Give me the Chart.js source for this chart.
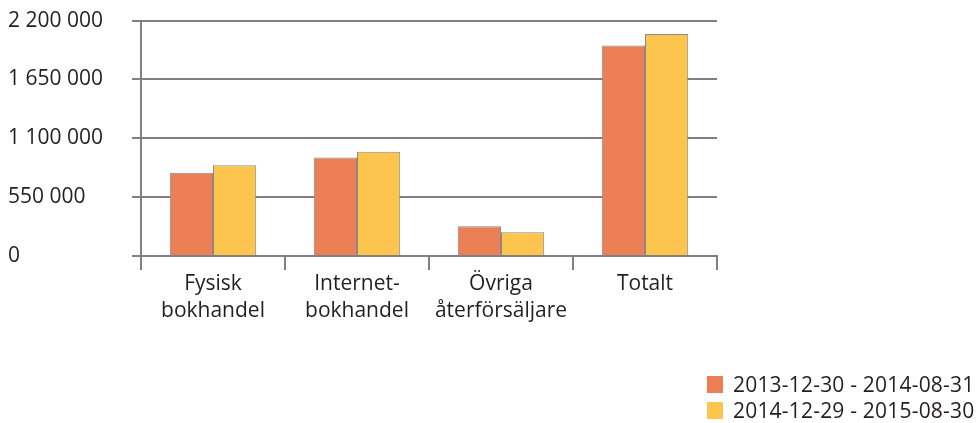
<!DOCTYPE html>
<html>
<head>
<meta charset="utf-8">
<script src="https://cdn.jsdelivr.net/npm/chart.js@4.4.0/dist/chart.umd.min.js"></script>
<style>
  html, body { margin: 0; padding: 0; background: #fff; }
  #wrap { position: relative; width: 979px; height: 423px; }
  #legend { position: absolute; left: 707px; top: 371px; font-family: "Open Sans", sans-serif; font-size: 21px; color: #231f20; letter-spacing: 0.2px; }
  #legend div { display: flex; align-items: center; height: 26px; }
  #legend span.box { display: inline-block; width: 16px; height: 17px; margin-right: 10px; }
</style>
</head>
<body>
<div id="wrap">
  <canvas id="myChart" width="979" height="423"></canvas>
  <div id="legend"></div>
</div>
<script>
var categories = [['Fysisk', 'bokhandel'], ['Internet-', 'bokhandel'], ['Övriga', 'återförsäljare'], 'Totalt'];
var seriesNames = ['2013-12-30 - 2014-08-31', '2014-12-29 - 2015-08-30'];
var values2014 = [778000, 921000, 279000, 1968000];
var values2015 = [849000, 975000, 223000, 2075000];
var seriesColors = ['#ec7f55', '#fdc54e'];
var yTicks = [0, 550000, 1100000, 1650000, 2200000];

function fmt(v) {
    return String(v).replace(/\B(?=(\d{3})+(?!\d))/g, ' ');
}

var ctx = document.getElementById('myChart');
var chart = new Chart(ctx, {
    type: 'bar',
    data: {
        labels: categories,
        datasets: [
            { label: seriesNames[0], data: values2014, backgroundColor: seriesColors[0], borderColor: '#8a8a8a', borderWidth: 1 },
            { label: seriesNames[1], data: values2015, backgroundColor: seriesColors[1], borderColor: '#8a8a8a', borderWidth: 1 }
        ]
    },
    options: {
        responsive: false,
        animation: false,
        layout: { padding: { left: 8, top: 14, right: 262, bottom: 0 } },
        datasets: { bar: { categoryPercentage: 0.6, barPercentage: 1.0 } },
        plugins: {
            legend: { display: false },
            tooltip: { enabled: false }
        },
        scales: {
            x: {
                offset: true,
                grid: { offset: true, drawOnChartArea: false, color: '#808080', lineWidth: 2, tickLength: 14 },
                border: { color: '#808080', width: 2 },
                ticks: { color: '#231f20', font: { family: 'Open Sans', size: 21, lineHeight: 1.3 }, padding: 0, maxRotation: 0, autoSkip: false },
                afterFit: function(scale) { scale.height = 167; }
            },
            y: {
                min: 0,
                max: 2200000,
                afterBuildTicks: function(scale) { scale.ticks = yTicks.map(function(v) { return { value: v }; }); },
                grid: { color: '#808080', lineWidth: 2, tickLength: 9 },
                border: { color: '#808080', width: 2 },
                ticks: {
                    color: '#231f20',
                    font: { family: 'Open Sans', size: 21 },
                    crossAlign: 'far',
                    padding: 8,
                    callback: function(v) { return fmt(v); }
                },
                afterFit: function(scale) { scale.width = 133; }
            }
        }
    }
});

var legend = document.getElementById('legend');
chart.data.datasets.forEach(function(ds) {
    var row = document.createElement('div');
    row.innerHTML = '<span class="box" style="background:' + ds.backgroundColor + '"></span>' + ds.label;
    legend.appendChild(row);
});
</script>
</body>
</html>
